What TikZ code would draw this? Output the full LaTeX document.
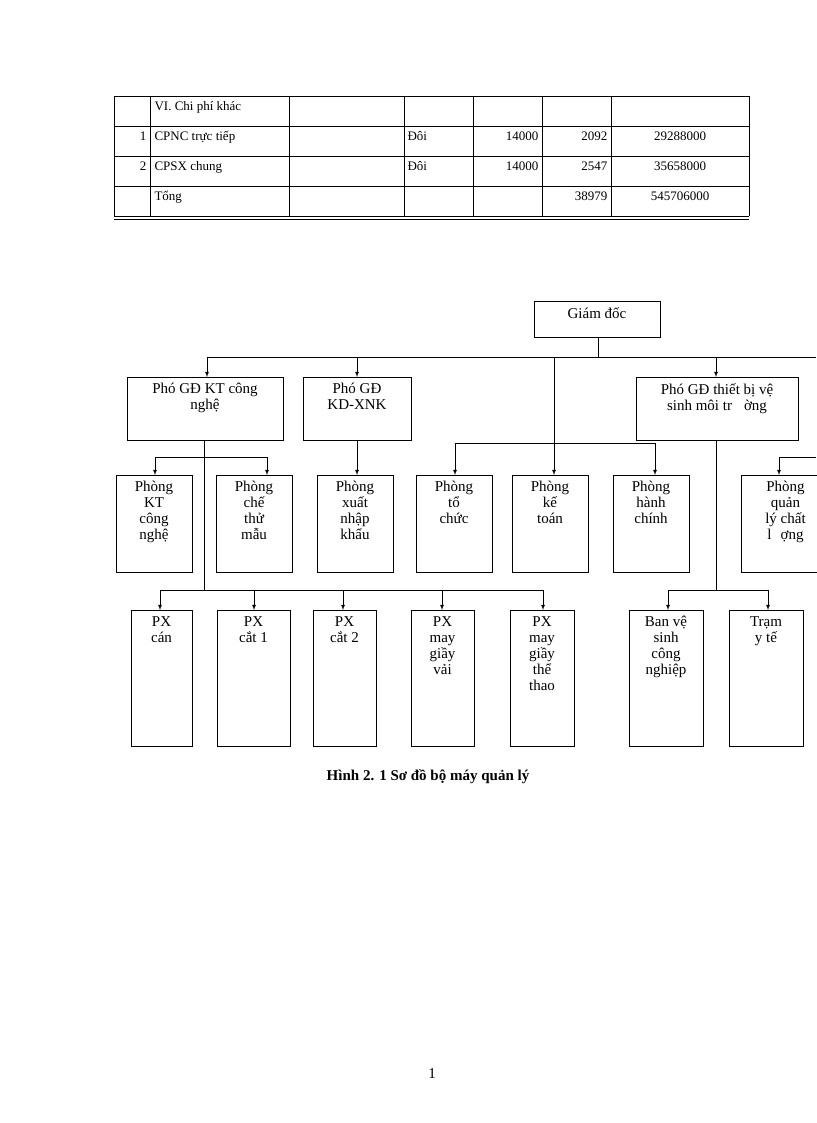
\documentclass[tikz,border=0pt]{standalone}
\usepackage{fontspec}
\setmainfont{Liberation Serif}
\begin{document}
\begin{tikzpicture}[x=1pt,y=-1pt,
 bx/.style={draw,line width=0.8pt,align=center,font=\fontsize{15}{15}\selectfont,inner sep=2pt},
 ar/.style={-latex,line width=0.8pt},
 ln/.style={line width=0.8pt},
 tc/.style={font=\fontsize{13}{13}\selectfont,anchor=base}]
\useasboundingbox (0,0) rectangle (816,1123);
% table
\foreach \y in {96,126,156,186,216} \draw[line width=0.6pt] (114,\y)--(749,\y);
\draw[line width=0.6pt] (114,219)--(749,219);
\foreach \x in {114,150,289,404,473,542,611,749} \draw[line width=0.6pt] (\x,96)--(\x,216);
\node[tc,anchor=base west] (t1) at (151,111) {VI.\ Chi phí khác};
\node[tc,anchor=base east] (t2) at (150,141) {1};
\node[tc,anchor=base west] (t3) at (151,141) {CPNC trực tiếp};
\node[tc,anchor=base west] (t4) at (404,141) {Đôi};
\node[tc,anchor=base east] (t5) at (542,141) {14000};
\node[tc,anchor=base east] (t6) at (611,141) {2092};
\node[tc] (t7) at (680,141) {29288000};
\node[tc,anchor=base east] (t8) at (150,171) {2};
\node[tc,anchor=base west] (t9) at (151,171) {CPSX chung};
\node[tc,anchor=base west] (t10) at (404,171) {Đôi};
\node[tc,anchor=base east] (t11) at (542,171) {14000};
\node[tc,anchor=base east] (t12) at (611,171) {2547};
\node[tc] (t13) at (680,171) {35658000};
\node[tc,anchor=base west] (t14) at (151,201) {Tổng};
\node[tc,anchor=base east] (t15) at (611,201) {38979};
\node[tc] (t16) at (680,201) {545706000};
% boxes
\newcommand\bxx[6]{\draw[line width=0.8pt] (#2,#3) rectangle (#4,#5); \node[align=center,font=\fontsize{15}{16}\selectfont,anchor=north,inner sep=0pt] (#1) at ({(#2+#4)/2},#3+6) {#6};}
\bxx{gd}{534}{301}{660}{337}{Giám đốc}
\bxx{p1}{127}{377}{283}{440}{Phó GĐ KT công\\nghệ}
\bxx{p2}{303}{377}{411}{440}{Phó GĐ\\KD-XNK}
\bxx{p3}{636}{377}{798}{440}{Phó GĐ thiết bị vệ\\sinh môi tr\hspace{0.8em}ờng}
\bxx{r1}{116}{475}{192}{572}{Phòng\\KT\\công\\nghệ}
\bxx{r2}{216}{475}{292}{572}{Phòng\\chế\\thử\\mẫu}
\bxx{r3}{317}{475}{393}{572}{Phòng\\xuất\\nhập\\khẩu}
\bxx{r4}{416}{475}{492}{572}{Phòng\\tổ\\chức}
\bxx{r5}{512}{475}{588}{572}{Phòng\\kế\\toán}
\bxx{r6}{613}{475}{689}{572}{Phòng\\hành\\chính}
\bxx{r7}{741}{475}{830}{572}{Phòng\\quản\\lý chất\\l\hspace{0.6em}ợng}
\bxx{s1}{131}{610}{192}{746}{PX\\cán}
\bxx{s2}{217}{610}{290}{746}{PX\\cắt 1}
\bxx{s3}{313}{610}{376}{746}{PX\\cắt 2}
\bxx{s4}{411}{610}{474}{746}{PX\\may\\giầy\\vải}
\bxx{s5}{510}{610}{574}{746}{PX\\may\\giầy\\thể\\thao}
\bxx{s6}{629}{610}{703}{746}{Ban vệ\\sinh\\công\\nghiệp}
\bxx{s7}{729}{610}{803}{746}{Trạm\\y tế}
% connectors
\coordinate (h0) at (598,357);
\draw[ln] (598,337)--(h0);
\draw[ln] (207,357)--(816,357);
\draw[ar] (207,357)--(207,377);
\draw[ar] (357,357)--(357,377);
\draw[ar] (716,357)--(716,377);
\draw[ar] (554,357)--(554,475);
\draw[ln] (455,443)--(655,443);
\draw[ar] (455,443)--(455,475);
\draw[ar] (655,443)--(655,475);
\draw[ln] (204,440)--(204,590);
\draw[ln] (155,457)--(267,457);
\draw[ar] (155,457)--(155,475);
\draw[ar] (267,457)--(267,475);
\draw[ar] (357,440)--(357,475);
\draw[ln] (816,457)--(779,457);
\draw[ar] (779,457)--(779,475);
\draw[ln] (160,590)--(543,590);
\foreach \x in {160,254,343,442,543} \draw[ar] (\x,590)--(\x,610);
\draw[ln] (716,440)--(716,590);
\draw[ln] (668,590)--(768,590);
\draw[ar] (668,590)--(668,610);
\draw[ar] (768,590)--(768,610);
\node[font=\bfseries\fontsize{15}{15}\selectfont] (cap) at (428,777) {Hình 2. 1 Sơ đồ bộ máy quản lý};
\node[font=\fontsize{15}{15}\selectfont] (pg) at (432,1074) {1};
\end{tikzpicture}
\end{document}
